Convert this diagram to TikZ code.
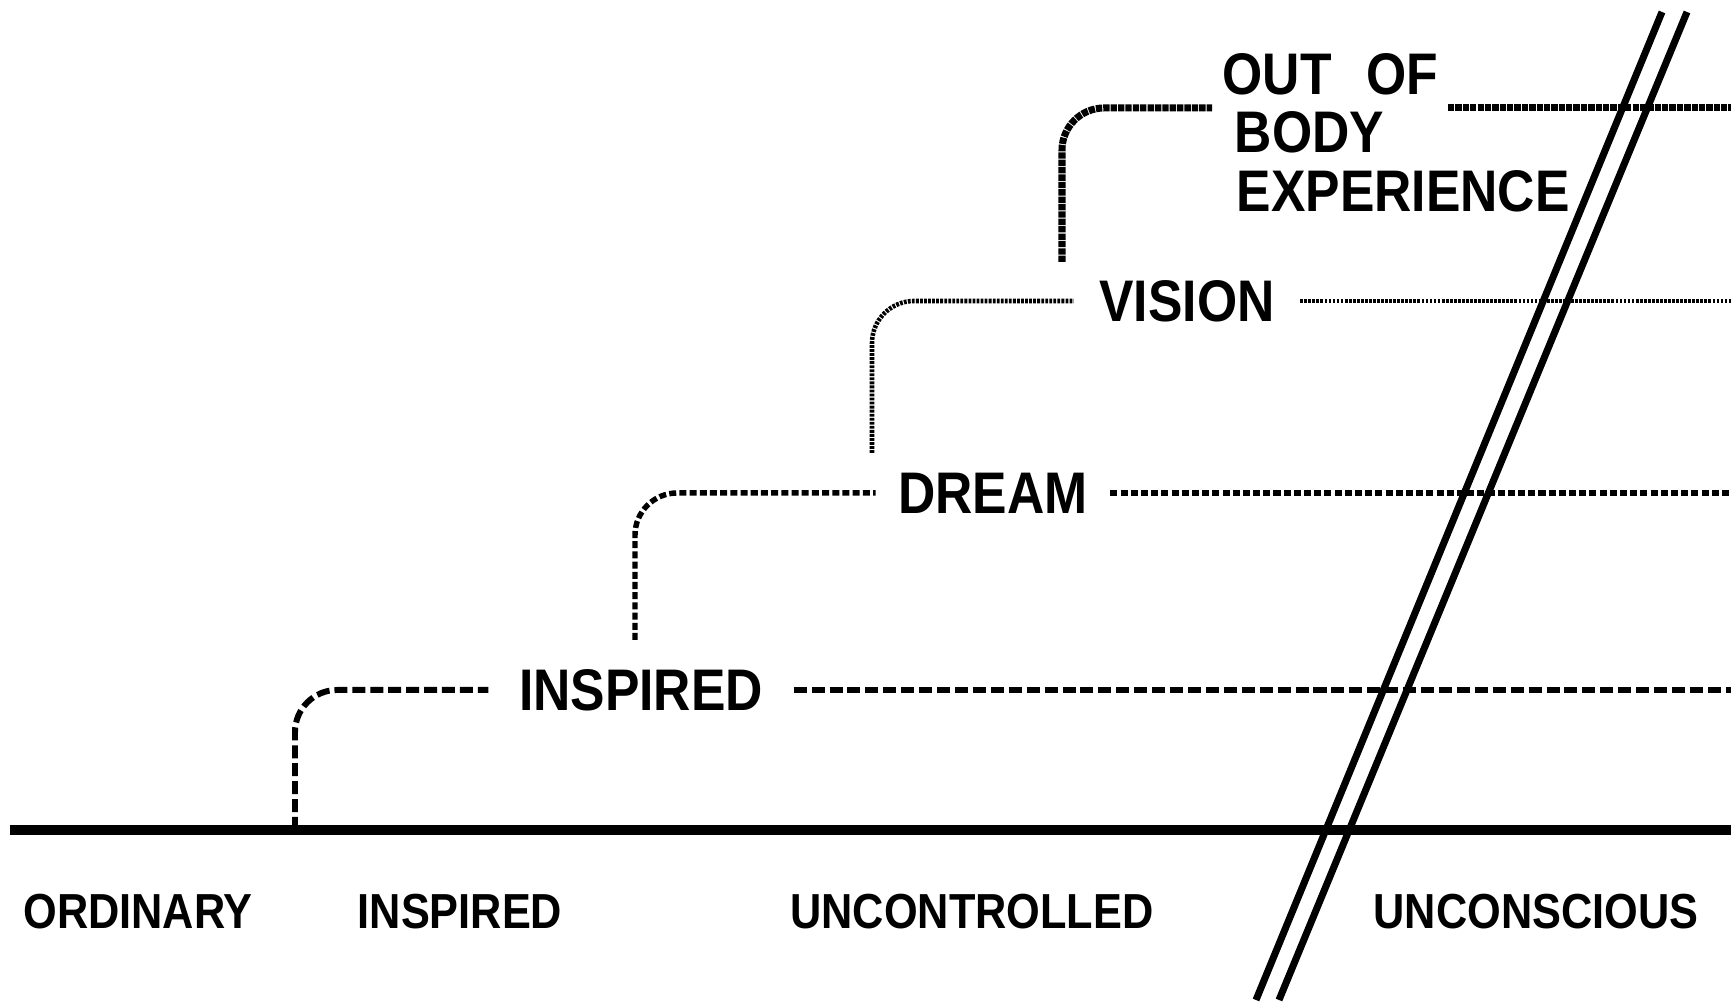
\documentclass[tikz,border=0pt]{standalone}
\usepackage{fontspec}
\setmainfont{Liberation Sans}[FakeStretch=0.88]

\begin{document}
\begin{tikzpicture}
\tikzstyle{lvl}=[font=\fontsize{16.7}{16.6}\selectfont\bfseries,inner sep=0.25cm]
\tikzstyle{cat}=[font=\fontsize{14}{15}\selectfont\bfseries,inner sep=0]
\tikzstyle{inspline}=[line width=1.7pt,dash pattern=on 3.7pt off 1.4pt,rounded corners=12pt]
\tikzstyle{dreamline}=[line width=1.55pt,dash pattern=on 2pt off 0.9pt,rounded corners=12pt]
\tikzstyle{visline}=[line width=1.3pt,dash pattern=on 0.8pt off 0.35pt,rounded corners=12pt]
\tikzstyle{obeline}=[line width=2pt,dash pattern=on 1.8pt off 0.3pt,rounded corners=12pt]
\useasboundingbox (0,0) rectangle (17.31,10.03);
\coordinate (edge) at (17.31,0);
% ground line and states below it
\draw[line width=2.6pt] (0.10,1.73) -- (17.31,1.73);
\node[cat] (ord) at (1.38,0.91) {ORDINARY};
\node[cat] (insb) at (4.60,0.91) {INSPIRED};
\node[cat] (unc) at (9.72,0.91) {UNCONTROLLED};
\node[cat] (ucs) at (15.36,0.91) {UNCONSCIOUS};
% levels
\node[lvl,inner sep=0.3cm] (insp) at (6.41,3.13) {INSPIRED};
\node[lvl,inner sep=0.22cm] (drm) at (9.93,5.10) {DREAM};
\node[lvl] (vis) at (11.87,7.02) {VISION};
\node[lvl,inner sep=0,align=left,anchor=north west] (obe) at (12.22,9.50)
  {OUT\hspace{0.35cm}OF\\\hspace{0.12cm}BODY\\\hspace{0.14cm}EXPERIENCE};
\coordinate (i0) at (2.95,1.73);
\coordinate (d0) at (6.35,3.63);
\coordinate (v0) at (8.72,5.50);
\coordinate (o0) at (10.62,7.41);
\coordinate (o1) at (12.12,8.95);
\coordinate (o2) at (14.48,8.95);
\draw[inspline] (i0) |- (insp.west);
\draw[inspline] (insp.east) -- (insp.east -| edge);
\draw[dreamline] (d0) |- (drm.west);
\draw[dreamline] (drm.east) -- (drm.east -| edge);
\draw[visline] (v0) |- (vis.west);
\draw[visline] (vis.east) -- (vis.east -| edge);
\draw[obeline] (o0) |- (o1);
\draw[obeline] (o2) -- (o2 -| edge);
% the double slash
\draw[line width=2pt] (16.62,9.91) -- (12.56,0.03);
\draw[line width=2pt] (16.87,9.91) -- (12.79,0.03);
\end{tikzpicture}
\end{document}
